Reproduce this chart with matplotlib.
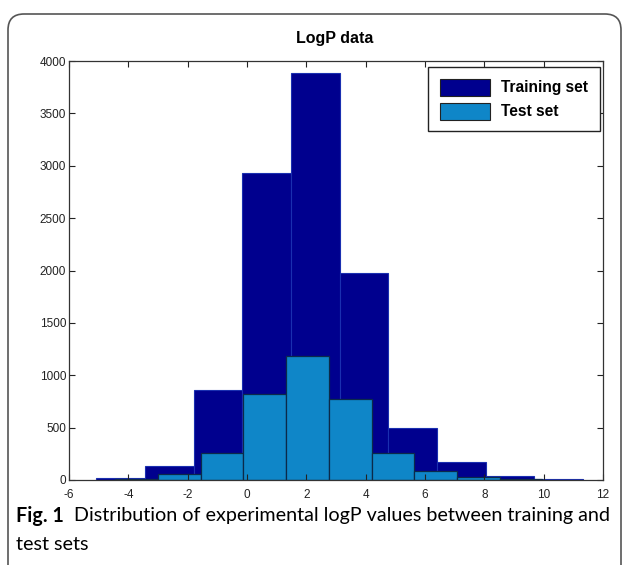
import matplotlib
matplotlib.use("Agg")
import matplotlib.pyplot as plt
from matplotlib.patches import FancyBboxPatch, Patch
from matplotlib.transforms import IdentityTransform
import numpy as np

# ---- data ----
train_edges = [-5.08, -3.44, -1.80, -0.16, 1.48, 3.12, 4.76, 6.40, 8.04, 9.68, 11.32]
train_counts = [20, 134, 860, 2930, 3890, 1980, 500, 175, 35, 10]
test_edges = [-4.44, -3.00, -1.56, -0.12, 1.32, 2.76, 4.20, 5.64, 7.08, 8.52, 9.96]
test_counts = [5, 55, 255, 820, 1187, 772, 255, 85, 25, 5]
xticks = [-6, -4, -2, 0, 2, 4, 6, 8, 10, 12]
yticks = [0, 500, 1000, 1500, 2000, 2500, 3000, 3500, 4000]
title = "LogP data"
series_labels = ["Training set", "Test set"]
caption_bold = "Fig. 1"
caption_line1 = "Distribution of experimental logP values between training and"
caption_line2 = "test sets"

TRAIN_COLOR = "#00008e"
TEST_COLOR = "#0f86c8"

W, H = 629, 565
fig = plt.figure(figsize=(W / 100, H / 100), dpi=100)


def fx(px):
    return px / W


def fy(py):
    return 1 - py / H


# rounded frame around the figure (extends below the image)
frame = FancyBboxPatch((8, -40), 613, H - 14 + 40, boxstyle="round,pad=0,rounding_size=16",
                       transform=IdentityTransform(), facecolor="none",
                       edgecolor="#555555", linewidth=1.2)
fig.add_artist(frame)

ax_left, ax_right, ax_top, ax_bottom = 69, 603, 61, 480
ax = fig.add_axes([fx(ax_left), fy(ax_bottom), (ax_right - ax_left) / W, (ax_bottom - ax_top) / H])

ax.bar(train_edges[:-1], train_counts, width=np.diff(train_edges), align="edge",
       color=TRAIN_COLOR, edgecolor="#1a2fb0", linewidth=0.8)
ax.bar(test_edges[:-1], test_counts, width=np.diff(test_edges), align="edge",
       color=TEST_COLOR, edgecolor="#0b2a4a", linewidth=0.9)

ax.set_xlim(-6, 12)
ax.set_ylim(0, 4000)
ax.set_xticks(xticks)
ax.set_yticks(yticks)
ax.set_xticklabels([str(v) for v in xticks])
ax.set_yticklabels([str(v) for v in yticks])
ax.tick_params(direction="in", top=True, right=True, length=4, width=0.8,
               labelsize=8.5, colors="#222222")
ax.tick_params(axis="x", pad=6.5)
ax.tick_params(axis="y", pad=2)
for lab in ax.get_xticklabels() + ax.get_yticklabels():
    lab.set_family("Liberation Sans")
for s in ax.spines.values():
    s.set_linewidth(0.9)
    s.set_color("#333333")

fig.text(fx(335), fy(39), title, ha="center", va="center", fontsize=11.5,
         fontweight="bold", family="Liberation Sans")

handles = [Patch(facecolor=TRAIN_COLOR, edgecolor="#222222", linewidth=0.8),
           Patch(facecolor=TEST_COLOR, edgecolor="#222222", linewidth=0.8)]
leg = ax.legend(handles, series_labels, loc="upper right",
                bbox_to_anchor=(fx(600), fy(67)), bbox_transform=fig.transFigure,
                fancybox=False, framealpha=1, edgecolor="#222222",
                prop={"family": "Liberation Sans", "weight": "bold", "size": 11.2},
                handlelength=3.2, handleheight=1.3, labelspacing=0.45,
                handletextpad=0.75, borderpad=0.75, borderaxespad=0)
leg.get_frame().set_linewidth(1.0)

fig.text(fx(16), fy(516), caption_bold, ha="left", va="center", fontsize=14.2,
         fontweight="bold", family="Lato")
fig.text(fx(74), fy(516), caption_line1, ha="left", va="center", fontsize=14.2,
         family="Lato")
fig.text(fx(16), fy(544), caption_line2, ha="left", va="center", fontsize=14.2,
         family="Lato")

fig.savefig("out.png", dpi=100)
